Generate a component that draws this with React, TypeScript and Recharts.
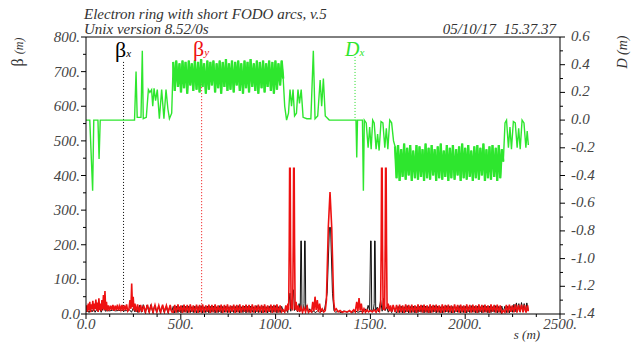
import React from 'react';
import { ComposedChart, Line, XAxis, YAxis, ReferenceLine } from 'recharts';

// s (m) -> value pairs
const dxStart = [
  [0, 0], [20, 0], [35, -0.51], [41, 0], [63, 0], [69, -0.28], [75, 0], [256, 0], [264, 0.35], [270, 0.02],
  [290, 0.02], [297, 0.5], [302, 0.01], [318, 0.02], [329, 0.22], [337, 0.2], [346, 0.22], [352, 0.1],
  [359, 0.23], [367, 0.14], [376, 0.22], [387, 0.01], [399, 0.22], [411, 0.01], [422, 0.22], [432, 0.08],
  [440, 0.01], [452, 0.05],
];
const dxMid = [
  [1048, 0.1], [1058, 0], [1068, 0.05], [1076, 0.22], [1084, 0.1], [1092, 0.22], [1100, 0.03], [1110, 0.05],
  [1118, 0.22], [1126, 0.12], [1135, 0.22], [1145, 0.02], [1165, 0.01], [1186, 0.01], [1199, 0.5], [1208, 0.01],
  [1222, 0.03], [1235, 0.29], [1243, 0.1], [1252, 0.3], [1262, 0.03], [1283, 0], [1424, 0], [1428, -0.27],
  [1432, 0], [1458, 0], [1463, -0.51], [1468, 0], [1478, -0.02], [1488, -0.2], [1496, -0.05], [1504, -0.21],
  [1512, 0], [1520, -0.02], [1530, -0.21], [1538, -0.1], [1546, -0.22], [1556, -0.01], [1566, -0.02],
  [1576, -0.2], [1584, -0.06], [1592, -0.21], [1602, 0], [1612, -0.02], [1622, -0.15],
];
const dxEnd = [
  [2210, -0.02], [2218, 0], [2228, -0.2], [2236, -0.05], [2244, -0.21], [2254, -0.01], [2264, -0.02],
  [2274, -0.2], [2282, -0.06], [2290, -0.21], [2300, 0], [2310, -0.02], [2320, -0.2], [2327, -0.08], [2333, -0.18],
];

// lattice positions of the two FODO arcs
const arc1S = [
  460, 468, 476, 485, 493, 501, 509, 517, 525, 534, 542, 550,
  558, 566, 574, 583, 591, 599, 607, 615, 623, 632, 640, 648,
  656, 664, 672, 681, 689, 697, 705, 713, 721, 730, 738, 746,
  754, 762, 770, 779, 787, 795, 803, 811, 819, 828, 836, 844,
  852, 860, 868, 877, 885, 893, 901, 909, 917, 926, 934, 942,
  950, 958, 966, 975, 983, 991, 999, 1007, 1015, 1024, 1032, 1040,
];
const arc2S = [
  1630, 1638, 1646, 1654, 1662, 1670, 1678, 1686, 1694, 1702, 1710, 1718,
  1726, 1735, 1743, 1751, 1759, 1767, 1775, 1783, 1791, 1799, 1807, 1815,
  1823, 1831, 1839, 1847, 1855, 1863, 1871, 1879, 1887, 1895, 1903, 1911,
  1919, 1927, 1935, 1944, 1952, 1960, 1968, 1976, 1984, 1992, 2000, 2008,
  2016, 2024, 2032, 2040, 2048, 2056, 2064, 2072, 2080, 2088, 2096, 2104,
  2112, 2120, 2128, 2136, 2144, 2153, 2161, 2169, 2177, 2185, 2193, 2201,
];

const dxArc1 = [
  0.42, 0.21, 0.43, 0.24, 0.41, 0.2, 0.43, 0.23, 0.42, 0.19, 0.43, 0.25,
  0.41, 0.21, 0.43, 0.22, 0.42, 0.2, 0.44, 0.24, 0.41, 0.19, 0.43, 0.22,
  0.42, 0.25, 0.43, 0.2, 0.41, 0.23, 0.43, 0.19, 0.42, 0.24, 0.44, 0.21,
  0.41, 0.22, 0.43, 0.2, 0.42, 0.25, 0.43, 0.21, 0.41, 0.19, 0.43, 0.23,
  0.42, 0.2, 0.44, 0.24, 0.41, 0.21, 0.43, 0.19, 0.42, 0.23, 0.43, 0.2,
  0.41, 0.24, 0.43, 0.21, 0.42, 0.19, 0.43, 0.22, 0.41, 0.25, 0.43, 0.3,
];
const dxArc2 = [
  -0.19, -0.42, -0.18, -0.44, -0.21, -0.41, -0.17, -0.43, -0.2, -0.4, -0.18, -0.44,
  -0.22, -0.42, -0.18, -0.43, -0.19, -0.41, -0.21, -0.44, -0.17, -0.42, -0.2, -0.43,
  -0.18, -0.4, -0.21, -0.44, -0.19, -0.42, -0.17, -0.43, -0.22, -0.41, -0.18, -0.44,
  -0.2, -0.42, -0.18, -0.43, -0.21, -0.4, -0.19, -0.44, -0.17, -0.42, -0.2, -0.43,
  -0.18, -0.41, -0.22, -0.44, -0.19, -0.42, -0.18, -0.43, -0.2, -0.4, -0.17, -0.44,
  -0.21, -0.42, -0.19, -0.43, -0.18, -0.41, -0.2, -0.44, -0.18, -0.42, -0.21, -0.3,
];

const bxStart = [
  [0, 6], [8, 12], [16, 4], [24, 14], [32, 6], [40, 15], [48, 5], [56, 13], [64, 7], [72, 16], [80, 5],
  [88, 14], [96, 30], [102, 8], [110, 10], [125, 9], [140, 11], [155, 9], [170, 10], [185, 11], [200, 9],
  [215, 10], [230, 12], [240, 5], [250, 18], [258, 6], [266, 20], [274, 4], [284, 26], [292, 5], [302, 27],
  [312, 4], [322, 26], [332, 5], [342, 27], [352, 4], [362, 25], [372, 5], [382, 21], [392, 4], [402, 22],
  [412, 5], [422, 21], [432, 4], [442, 22], [452, 6],
];
const bxArc1 = [
  22, 3, 23, 4, 21, 3, 24, 5, 22, 3, 23, 4,
  21, 4, 23, 3, 22, 5, 24, 3, 21, 4, 23, 3,
  22, 5, 23, 3, 21, 4, 24, 3, 22, 5, 23, 4,
  21, 3, 23, 4, 22, 5, 24, 3, 21, 4, 23, 3,
  22, 4, 23, 5, 21, 3, 24, 4, 22, 3, 23, 5,
  21, 3, 23, 4, 22, 5, 24, 3, 21, 4, 22, 8,
];
const bxMid = [
  [1048, 5], [1056, 20], [1064, 4], [1070, 30], [1076, 60], [1080, 8], [1088, 40], [1094, 70], [1100, 10],
  [1108, 25], [1116, 6], [1124, 30], [1130, 8], [1133, 211], [1136, 211], [1139, 8], [1146, 10], [1150, 30],
  [1153, 211], [1156, 211], [1159, 10], [1166, 25], [1172, 5], [1180, 15], [1190, 5], [1200, 8], [1212, 4],
  [1222, 10], [1232, 5], [1245, 8], [1258, 12], [1272, 60], [1284, 250], [1290, 250], [1300, 60], [1308, 10],
  [1316, 5], [1330, 8], [1345, 4], [1360, 9], [1375, 5], [1390, 8], [1405, 4], [1420, 9], [1435, 5],
  [1450, 8], [1462, 6], [1472, 15], [1480, 6], [1488, 25], [1496, 10], [1501, 211], [1504, 211], [1507, 10],
  [1516, 12], [1520, 30], [1522, 211], [1525, 211], [1528, 10], [1536, 20], [1544, 6], [1554, 40], [1562, 8],
  [1570, 45], [1578, 10], [1586, 20], [1594, 5], [1604, 18], [1612, 4], [1622, 20],
];
const bxArc2 = [
  8, 3, 22, 4, 23, 3, 21, 5, 24, 3, 22, 4,
  23, 3, 21, 4, 22, 5, 24, 3, 23, 4, 21, 3,
  22, 5, 24, 3, 23, 4, 21, 3, 22, 5, 24, 4,
  23, 3, 22, 4, 21, 5, 24, 3, 22, 4, 23, 3,
  21, 4, 24, 5, 22, 3, 23, 4, 21, 3, 24, 5,
  22, 3, 23, 4, 21, 5, 24, 3, 22, 4, 23, 6,
];
const bxEnd = [
  [2209, 22], [2217, 4], [2225, 23], [2233, 3], [2241, 22], [2249, 5], [2257, 28], [2263, 6], [2270, 32],
  [2276, 8], [2283, 30], [2290, 5], [2297, 33], [2304, 8], [2311, 30], [2318, 6], [2325, 32], [2333, 10],
];

const byStart = [
  [0, 10], [4, 25], [8, 6], [12, 30], [16, 12], [20, 35], [24, 5], [28, 28], [32, 14], [36, 38], [40, 8],
  [44, 30], [48, 15], [52, 42], [56, 10], [60, 33], [64, 6], [68, 45], [72, 12], [76, 30], [80, 8], [84, 40],
  [88, 14], [92, 55], [96, 10], [100, 66], [104, 12], [108, 35], [112, 8], [118, 25], [124, 10], [130, 24],
  [136, 12], [142, 26], [148, 9], [154, 24], [160, 11], [166, 27], [172, 10], [178, 23], [184, 12], [190, 26],
  [196, 9], [202, 25], [208, 11], [214, 28], [220, 8], [226, 12], [232, 40], [237, 15], [241, 88], [245, 20],
  [249, 50], [253, 10], [258, 30], [266, 6], [272, 28], [280, 5], [288, 26], [296, 6], [304, 25], [314, 5],
  [324, 27], [334, 6], [344, 25], [354, 5], [364, 26], [374, 6], [384, 25], [394, 5], [404, 27], [414, 6],
  [424, 25], [434, 5], [444, 26], [452, 6],
];
const byArc1 = [
  5, 26, 4, 28, 6, 25, 3, 27, 5, 26, 4, 28,
  6, 25, 4, 27, 3, 26, 5, 28, 4, 25, 6, 27,
  3, 26, 5, 28, 4, 25, 6, 27, 3, 26, 5, 28,
  4, 25, 6, 27, 3, 26, 5, 28, 4, 25, 6, 27,
  5, 26, 3, 28, 4, 25, 6, 27, 5, 26, 3, 28,
  4, 25, 6, 27, 3, 26, 5, 28, 4, 25, 6, 12,
];
const byMid = [
  [1048, 6], [1054, 25], [1060, 8], [1065, 30], [1069, 12], [1072, 200], [1074, 421], [1077, 421],
  [1079, 200], [1082, 15], [1086, 40], [1090, 10], [1093, 200], [1095, 421], [1098, 421], [1100, 200],
  [1103, 12], [1108, 35], [1114, 8], [1120, 25], [1126, 6], [1134, 20], [1142, 5], [1150, 18], [1158, 6],
  [1166, 22], [1174, 5], [1182, 10], [1190, 6], [1196, 35], [1202, 8], [1208, 50], [1214, 12], [1220, 40],
  [1226, 5], [1232, 30], [1238, 8], [1246, 15], [1254, 6], [1262, 10], [1268, 40], [1278, 250], [1287, 352],
  [1296, 250], [1306, 40], [1312, 10], [1320, 15], [1330, 6], [1340, 10], [1352, 5], [1365, 8], [1378, 6],
  [1390, 10], [1400, 5], [1412, 12], [1420, 6], [1428, 35], [1434, 8], [1440, 46], [1446, 10], [1452, 30],
  [1458, 5], [1466, 15], [1474, 5], [1482, 12], [1490, 6], [1500, 10], [1510, 6], [1520, 12], [1530, 5],
  [1540, 15], [1548, 8], [1554, 30], [1557, 200], [1559, 421], [1562, 421], [1564, 200], [1567, 12],
  [1571, 35], [1575, 10], [1578, 200], [1580, 421], [1583, 421], [1585, 200], [1588, 15], [1594, 30],
  [1600, 8], [1606, 25], [1612, 6], [1620, 26],
];
const byArc2 = [
  6, 26, 4, 27, 5, 25, 3, 28, 6, 26, 4, 27,
  5, 25, 3, 28, 6, 26, 4, 27, 5, 25, 3, 28,
  4, 26, 6, 27, 5, 25, 3, 28, 4, 26, 6, 27,
  5, 25, 3, 28, 6, 26, 4, 27, 5, 25, 3, 28,
  6, 26, 4, 27, 5, 25, 3, 28, 6, 26, 4, 27,
  5, 25, 3, 28, 6, 26, 4, 27, 5, 25, 3, 10,
];
const byEnd = [
  [2209, 5], [2217, 26], [2225, 4], [2233, 27], [2241, 6], [2249, 25], [2257, 5], [2265, 28], [2273, 4],
  [2281, 26], [2289, 6], [2297, 27], [2305, 5], [2313, 26], [2321, 4], [2329, 25], [2333, 8],
];

const betaTicks = [0, 50, 100, 150, 200, 250, 300, 350, 400, 450, 500, 550, 600, 650, 700, 750, 800];
const dTicks = [-1.4, -1.3, -1.2, -1.1, -1.0, -0.9, -0.8, -0.7, -0.6, -0.5, -0.4, -0.3, -0.2, -0.1, 0, 0.1, 0.2, 0.3, 0.4, 0.5, 0.6];
const sTicks = [0, 125, 250, 375, 500, 625, 750, 875, 1000, 1125, 1250, 1375, 1500, 1625, 1750, 1875, 2000, 2125, 2250, 2375, 2500];

const pairs = (p: number[][]) => p.map(([s, v]) => ({ s, v }));
const zip = (s: number[], v: number[]) => s.map((x, i) => ({ s: x, v: v[i] }));

const dxArc1Data = zip(arc1S, dxArc1);
const dxArc2Data = zip(arc2S, dxArc2);
const dxData = [...pairs(dxStart), ...dxArc1Data, ...pairs(dxMid), ...dxArc2Data, ...pairs(dxEnd)];
const bxData = [...pairs(bxStart), ...zip(arc1S, bxArc1), ...pairs(bxMid), ...zip(arc2S, bxArc2), ...pairs(bxEnd)];
const byData = [...pairs(byStart), ...zip(arc1S, byArc1), ...pairs(byMid), ...zip(arc2S, byArc2), ...pairs(byEnd)];

const GREEN = '#2ee62e';
const RED = '#ee1111';
const serif = '"Liberation Serif", "DejaVu Serif", serif';
const tickFont = { fontFamily: serif, fontStyle: 'italic' as const, fontSize: 15, fill: '#444' };

const BetaTick = (props: any) => {
  const { x, y, payload } = props;
  const v = payload.value;
  const major = v % 100 === 0;
  return (
    <g>
      <line x1={x} y1={y} x2={x - (major ? 5 : 3)} y2={y} stroke="#000" />
      {major && (
        <text x={x - 6} y={y + 5} textAnchor="end" style={tickFont}>
          {v === 0 ? '0.0' : v + '.'}
        </text>
      )}
    </g>
  );
};

const DTick = (props: any) => {
  const { x, y, payload } = props;
  const v = payload.value;
  const major = Math.abs(Math.round(v * 10)) % 2 === 0;
  return (
    <g>
      <line x1={x} y1={y} x2={x + (major ? 5 : 3)} y2={y} stroke="#000" />
      {major && (
        <text x={x + 11} y={y + 4} textAnchor="start" style={tickFont}>
          {v.toFixed(1)}
        </text>
      )}
    </g>
  );
};

const STick = (props: any) => {
  const { x, y, payload } = props;
  const v = payload.value;
  const major = v % 500 === 0;
  return (
    <g>
      <line x1={x} y1={y} x2={x} y2={y + (major ? 5 : 3)} stroke="#000" />
      {major && (
        <text x={x} y={y + 15} textAnchor="middle" style={tickFont}>
          {v === 0 ? '0.0' : v + '.'}
        </text>
      )}
    </g>
  );
};

const TopTick = (props: any) => {
  const { x, y, payload } = props;
  const major = payload.value % 500 === 0;
  return <line x1={x} y1={y} x2={x} y2={y + (major ? 4 : 2)} stroke="#000" />;
};

export default function App() {
  return (
    <div style={{ position: 'absolute', left: 0, top: 0, width: 633, height: 343, background: '#fff' }}>
      <ComposedChart width={633} height={343} margin={{ top: 0, right: 13, bottom: 0, left: 26 }}>
        <XAxis
          xAxisId="top"
          orientation="top"
          type="number"
          dataKey="s"
          domain={[0, 2500]}
          ticks={sTicks}
          interval={0}
          height={37}
          tickSize={0}
          tickMargin={0}
          tickLine={false}
          tick={<TopTick />}
          axisLine={{ stroke: '#000' }}
        />
        <XAxis
          type="number"
          dataKey="s"
          domain={[0, 2500]}
          allowDataOverflow
          ticks={sTicks}
          interval={0}
          height={29}
          tickSize={0}
          tickMargin={0}
          tickLine={false}
          tick={<STick />}
          axisLine={{ stroke: '#000' }}
        />
        <YAxis
          yAxisId="b"
          type="number"
          domain={[0, 800]}
          allowDataOverflow
          ticks={betaTicks}
          interval={0}
          width={60}
          tickSize={0}
          tickMargin={0}
          tickLine={false}
          tick={<BetaTick />}
          axisLine={{ stroke: '#000' }}
        />
        <YAxis
          yAxisId="d"
          orientation="right"
          type="number"
          domain={[-1.4, 0.6]}
          allowDataOverflow
          ticks={dTicks}
          interval={0}
          width={60}
          tickSize={0}
          tickMargin={0}
          tickLine={false}
          tick={<DTick />}
          axisLine={{ stroke: '#000' }}
        />
        <ReferenceLine yAxisId="b" segment={[{ x: 198, y: 728 }, { x: 198, y: 0 }]} stroke="#000" strokeDasharray="1 2" />
        <ReferenceLine yAxisId="b" segment={[{ x: 610, y: 733 }, { x: 610, y: 0 }]} stroke="#e00" strokeDasharray="1 2" />
        <ReferenceLine yAxisId="d" segment={[{ x: 1419, y: 0.456 }, { x: 1419, y: 0 }]} stroke="#2d2" strokeDasharray="1 2" />
        <Line yAxisId="b" data={bxData} dataKey="v" stroke="#111" strokeWidth={1} dot={false} type="linear" isAnimationActive={false} />
        <Line yAxisId="b" data={byData} dataKey="v" stroke={RED} strokeWidth={1.6} dot={false} type="linear" isAnimationActive={false} />
        <Line yAxisId="d" data={dxData} dataKey="v" stroke={GREEN} strokeWidth={1.4} dot={false} type="linear" isAnimationActive={false} />
        <Line yAxisId="d" data={dxArc1Data} dataKey="v" stroke={GREEN} strokeWidth={2.3} dot={false} type="linear" isAnimationActive={false} />
        <Line yAxisId="d" data={dxArc2Data} dataKey="v" stroke={GREEN} strokeWidth={2.3} dot={false} type="linear" isAnimationActive={false} />
      </ComposedChart>
      <svg width={633} height={343} style={{ position: 'absolute', left: 0, top: 0, pointerEvents: 'none' }}>
        <g style={{ fontFamily: serif, fontStyle: 'italic', fill: '#333' }}>
          <text x={84} y={19} fontSize={15}>Electron ring with short FODO arcs, v.5</text>
          <text x={84} y={34} fontSize={15}>Unix version 8.52/0s</text>
          <text x={556} y={34} fontSize={15} textAnchor="end">05/10/17{'\u00a0\u00a0'}15.37.37</text>
          <text x={527} y={339} fontSize={13} textAnchor="middle">s (m)</text>
          <text transform="translate(627,52) rotate(-90)" fontSize={14} textAnchor="middle">D (m)</text>
        </g>
        <text transform="translate(23,52) rotate(-90)" textAnchor="middle" style={{ fontFamily: serif, fill: '#333' }}>
          <tspan fontSize={16}>β </tspan>
          <tspan fontSize={12} fontStyle="italic">(m)</tspan>
        </text>
        <text x={115} y={57} style={{ fontFamily: serif, fill: '#000' }}>
          <tspan fontSize={22}>β</tspan>
          <tspan fontSize={11} fontStyle="italic">x</tspan>
        </text>
        <text x={193} y={56} style={{ fontFamily: serif, fill: RED }}>
          <tspan fontSize={22}>β</tspan>
          <tspan fontSize={11} fontStyle="italic">y</tspan>
        </text>
        <text x={345} y={56} style={{ fontFamily: serif, fill: GREEN, fontStyle: 'italic' }}>
          <tspan fontSize={20}>D</tspan>
          <tspan fontSize={11}>x</tspan>
        </text>
      </svg>
    </div>
  );
}
